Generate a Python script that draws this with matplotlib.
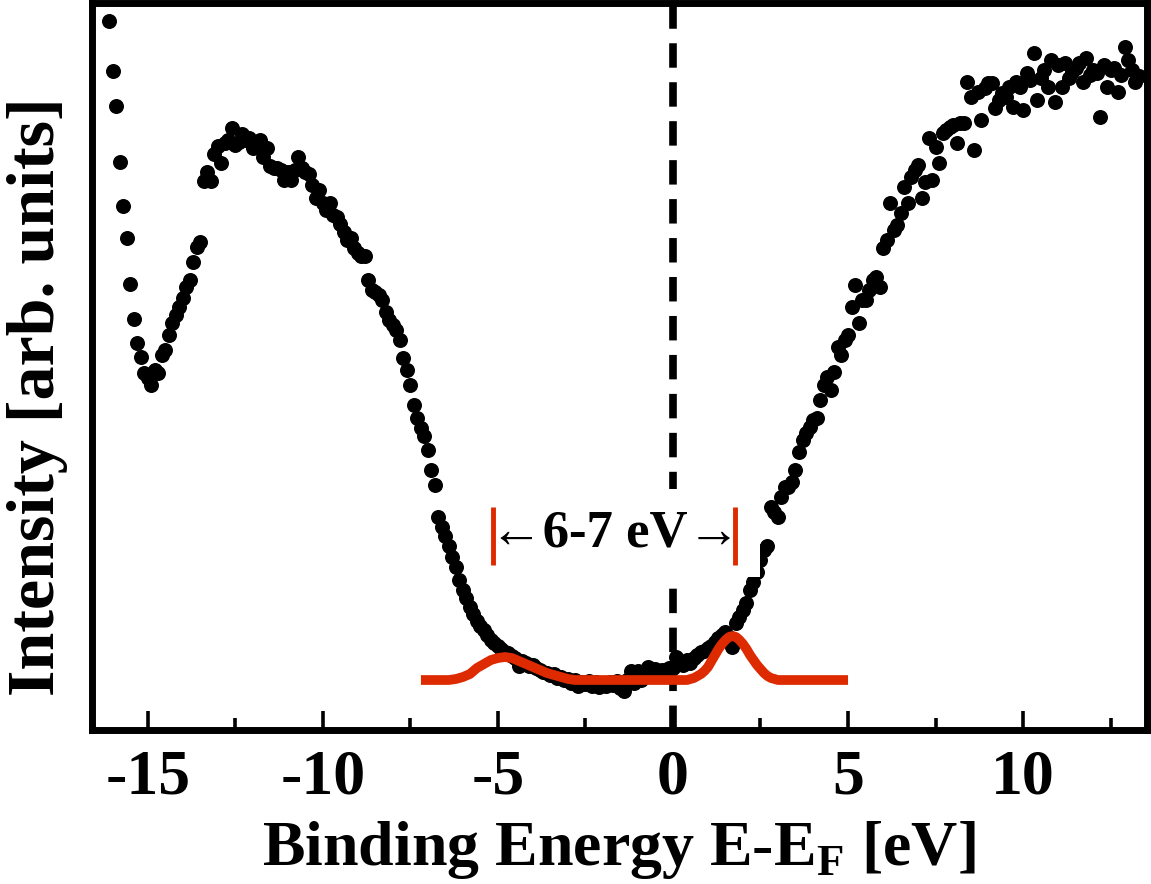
import matplotlib
matplotlib.use("Agg")
import matplotlib.pyplot as plt
from matplotlib.ticker import MultipleLocator

plt.rcParams["font.family"] = ["Liberation Serif", "DejaVu Serif"]
plt.rcParams["font.weight"] = "bold"
plt.rcParams["mathtext.fontset"] = "custom"
plt.rcParams["mathtext.rm"] = "Liberation Serif:bold"
plt.rcParams["mathtext.bf"] = "Liberation Serif:bold"

# Photoemission / inverse-photoemission spectrum (binding energy in eV)
energy = [
    -16.1, -16.0, -15.9, -15.8, -15.7, -15.6, -15.5, -15.4, -15.3, -15.2,
    -15.1, -15.0, -14.9, -14.8, -14.7, -14.6, -14.5, -14.4, -14.3, -14.2,
    -14.1, -14.0, -13.9, -13.8, -13.7, -13.6, -13.5, -13.4, -13.3, -13.2,
    -13.1, -13.0, -12.9, -12.8, -12.7, -12.6, -12.5, -12.4, -12.3, -12.2,
    -12.1, -12.0, -11.9, -11.8, -11.7, -11.6, -11.5, -11.4, -11.3, -11.2,
    -11.1, -11.0, -10.9, -10.8, -10.7, -10.6, -10.5, -10.4, -10.3, -10.2,
    -10.1, -10.0, -9.9, -9.8, -9.7, -9.6, -9.5, -9.4, -9.3, -9.2,
    -9.1, -9.0, -8.9, -8.8, -8.7, -8.6, -8.5, -8.4, -8.3, -8.2,
    -8.1, -8.0, -7.9, -7.8, -7.7, -7.6, -7.5, -7.4, -7.3, -7.2,
    -7.1, -7.0, -6.9, -6.8, -6.7, -6.6, -6.5, -6.4, -6.3, -6.2,
    -6.1, -6.0, -5.9, -5.8, -5.7, -5.6, -5.5, -5.4, -5.3, -5.2,
    -5.1, -5.0, -4.9, -4.8, -4.7, -4.6, -4.5, -4.4, -4.3, -4.2,
    -4.1, -4.0, -3.9, -3.8, -3.7, -3.6, -3.5, -3.4, -3.3, -3.2,
    -3.1, -3.0, -2.9, -2.8, -2.7, -2.6, -2.5, -2.4, -2.3, -2.2,
    -2.1, -2.0, -1.9, -1.8, -1.7, -1.6, -1.5, -1.4, -1.3, -1.2,
    -1.1, -1.0, -0.9, -0.8, -0.7, -0.6, -0.5, -0.4, -0.3, -0.2,
    -0.1, 0.0, 0.1, 0.2, 0.3, 0.4, 0.5, 0.6, 0.7, 0.8,
    0.9, 1.0, 1.1, 1.2, 1.3, 1.4, 1.5, 1.6, 1.7, 1.8,
    1.9, 2.0, 2.1, 2.2, 2.3, 2.4, 2.5, 2.6, 2.7, 2.8,
    2.9, 3.0, 3.1, 3.2, 3.3, 3.4, 3.5, 3.6, 3.7, 3.8,
    3.9, 4.0, 4.1, 4.2, 4.3, 4.4, 4.5, 4.6, 4.7, 4.8,
    4.9, 5.0, 5.1, 5.2, 5.3, 5.4, 5.5, 5.6, 5.7, 5.8,
    5.9, 6.0, 6.1, 6.2, 6.3, 6.4, 6.5, 6.6, 6.7, 6.8,
    6.9, 7.0, 7.1, 7.2, 7.3, 7.4, 7.5, 7.6, 7.7, 7.8,
    7.9, 8.0, 8.1, 8.2, 8.3, 8.4, 8.5, 8.6, 8.7, 8.8,
    8.9, 9.0, 9.1, 9.2, 9.3, 9.4, 9.5, 9.6, 9.7, 9.8,
    9.9, 10.0, 10.1, 10.2, 10.3, 10.4, 10.5, 10.6, 10.7, 10.8,
    10.9, 11.0, 11.1, 11.2, 11.3, 11.4, 11.5, 11.6, 11.7, 11.8,
    11.9, 12.0, 12.1, 12.2, 12.3, 12.4, 12.5, 12.6, 12.7, 12.8,
    12.9, 13.0, 13.1, 13.2, 13.3,
]

intensity = [
    709, 659, 624, 568, 524, 492, 446, 411, 387, 373,
    357, 352, 345, 360, 357, 375, 380, 395, 407, 415,
    423, 432, 443, 450, 468, 483, 488, 549, 558, 549,
    576, 584, 567, 587, 590, 602, 585, 588, 596, 590,
    592, 582, 585, 590, 573, 582, 564, 562, 562, 560,
    550, 558, 550, 560, 573, 562, 558, 556, 545, 532,
    540, 527, 520, 527, 515, 513, 506, 498, 490, 492,
    482, 477, 474, 474, 450, 440, 438, 435, 430, 418,
    410, 405, 400, 390, 372, 360, 345, 325, 312, 302,
    294, 280, 260, 245, 213, 203, 194, 184, 173, 163,
    150, 140, 132, 123, 116, 109, 104, 100, 95, 90,
    87, 84, 81, 78, 77, 74, 72, 64, 69, 67,
    64, 65, 62, 60, 58, 57, 55, 56, 52, 53,
    50, 51, 47, 50, 44, 48, 46, 49, 44, 48,
    43, 47, 44, 48, 45, 49, 42, 39, 50, 59,
    47, 59, 50, 54, 63, 55, 61, 58, 60, 55,
    62, 62, 73, 68, 65, 70, 67, 72, 75, 78,
    79, 82, 84, 88, 92, 95, 98, 93, 83, 107,
    113, 120, 127, 140, 148, 158, 170, 180, 184, 223,
    218, 213, 233, 243, 243, 248, 260, 278, 290, 297,
    303, 310, 312, 330, 345, 353, 340, 358, 383, 375,
    390, 395, 423, 445, 407, 430, 430, 440, 450, 453,
    443, 482, 490, 527, 500, 505, 517, 543, 527, 553,
    560, 565, 532, 548, 592, 550, 583, 567, 597, 600,
    603, 605, 587, 607, 607, 648, 633, 580, 638, 610,
    642, 647, 647, 622, 630, 637, 633, 643, 623, 648,
    643, 620, 657, 650, 677, 630, 652, 660, 643, 670,
    628, 665, 643, 667, 652, 658, 662, 667, 648, 672,
    655, 660, 657, 613, 665, 643, 660, 662, 638, 655,
    683, 670, 660, 648, 654,
]

# Model density of states near the Fermi level
model_energy = [
    -7.2, -6.4, -6.2, -6.0, -5.8, -5.6, -5.4, -5.2, -5.0, -4.8,
    -4.6, -4.4, -4.2, -4.0, -3.8, -3.6, -3.4, -3.2, -3.0, -2.8,
    0.4, 0.6, 0.8, 0.9, 1.0, 1.1, 1.2, 1.3, 1.4, 1.5,
    1.6, 1.7, 1.8, 1.9, 2.0, 2.1, 2.2, 2.3, 2.4, 2.5,
    2.6, 2.7, 2.8, 3.0, 5.0,
]
model_intensity = [
    50, 50, 51, 53, 56, 62, 66, 70, 72, 73,
    72, 69, 66, 63, 60, 57, 55, 53, 51, 50,
    50, 52, 56, 59, 63, 69, 75, 81, 86, 90,
    93, 94, 93, 90, 86, 81, 75, 70, 65, 61,
    57, 54, 52, 50, 50,
]

# Gap markers and label
gap_edges = [-5.14, 1.77]
gap_label = "\u2190" + "6-7 eV" + "\u2192"

tick_values = [-15, -10, -5, 0, 5, 10]
tick_labels = ["-15", "-10", "-5", "0", "5", "10"]

red = "#dd2a00"

fig = plt.figure(figsize=(11.51, 8.84), dpi=100)
ax = fig.add_axes([0.0795, 0.1742, 0.9170, 0.8224])

ax.plot(energy, intensity, "o", color="black", markersize=10.8,
        markeredgewidth=0, zorder=3)
ax.axvline(0, color="black", linewidth=5.5, dashes=(3.2, 1.9), zorder=2)
ax.plot(model_energy, model_intensity, color=red, linewidth=7,
        solid_joinstyle="round", solid_capstyle="butt", zorder=4)

ax.text(-1.66, 197, gap_label, ha="center", va="center", fontsize=38,
        fontweight="bold", zorder=6,
        bbox=dict(facecolor="white", edgecolor="none", pad=14))

for e in gap_edges:
    ax.plot([e, e], [165, 223], color=red, linewidth=3.5,
            solid_capstyle="butt", zorder=7)

ax.set_xlim(-16.61, 13.54)
ax.set_ylim(0, 727)

ax.set_xticks(tick_values)
ax.set_xticklabels(tick_labels)
ax.xaxis.set_minor_locator(MultipleLocator(2.5))
ax.set_yticks([])
ax.tick_params(axis="x", which="major", direction="in", length=14,
               width=2.6, labelsize=46, pad=14, top=False)
ax.tick_params(axis="x", which="minor", direction="in", length=8.5,
               width=2.6, top=False)

for s in ax.spines.values():
    s.set_linewidth(5)

ax.set_xlabel(r"Binding Energy E-E$_{\rm F}$ [eV]", fontsize=46,
              fontweight="bold", labelpad=8)
ax.set_ylabel("Intensity [arb. units]", fontsize=49, fontweight="bold")
ax.yaxis.set_label_coords(-0.022, 0.458)

fig.savefig("out.png", dpi=100)
